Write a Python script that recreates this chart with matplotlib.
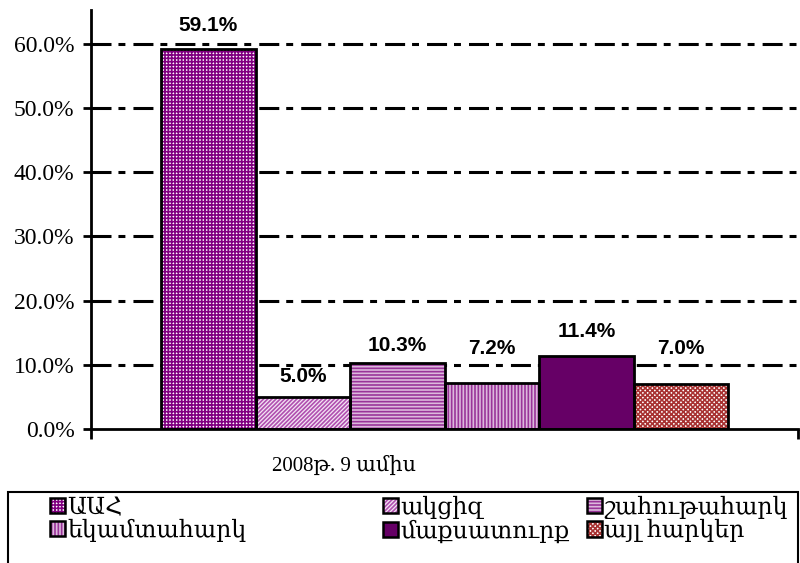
"""Tax revenue structure bar chart, 2008 (9 months)."""

import matplotlib
matplotlib.use("Agg")
import matplotlib.pyplot as plt
from matplotlib.patches import Patch, Rectangle
from matplotlib.legend_handler import HandlerTuple
from matplotlib.ticker import FuncFormatter

serif = ["Liberation Serif", "DejaVu Serif"]
plt.rcParams["font.family"] = serif
plt.rcParams["hatch.linewidth"] = 1.2
plt.rcParams["lines.scale_dashes"] = False

# Data
categories = ["ԱԱՀ", "ակցիզ", "շահութահարկ", "եկամտահարկ", "մաքսատուրք", "այլ հարկեր"]
values = [59.1, 5.0, 10.3, 7.2, 11.4, 7.0]
period_label = "2008թ. 9 ամիս"
yticks = [0, 10, 20, 30, 40, 50, 60]

# Fill styles: (face, hatch colour, hatch)
styles = [
    ("white", "#800080", "+++++"),
    ("#f4e4f4", "#b050b0", "////////"),
    ("#dcb8dc", "#993399", "-----"),
    ("#dcb8dc", "#993399", "|||||"),
    ("#660066", "#660066", None),
    ("white", "#a83232", "xxxxxxx"),
]
# label lift above each bar (points), as placed in the original
label_lift = [10.4, 8, 6, 18, 10.5, 19]

fig = plt.figure(figsize=(8, 5.63), dpi=100)
ax = fig.add_axes([0.114, 0.238, 0.884, 0.744])

x = list(range(len(values)))
handles = []
for xi, v, (face, hcol, hatch), lift in zip(x, values, styles, label_lift):
    ax.bar(xi, v, width=1.0, color=face, edgecolor=hcol, hatch=hatch,
           linewidth=0, zorder=2)
    ax.bar(xi, v, width=1.0, facecolor="none", edgecolor="black",
           linewidth=2, zorder=3)
    ax.annotate(f"{v:.1f}%", (xi, v), xytext=(0, lift), textcoords="offset points",
                ha="center", va="bottom", fontsize=15, fontweight="bold",
                family=["Liberation Sans", "DejaVu Sans"])
    handles.append((Patch(facecolor=face, edgecolor=hcol, hatch=hatch, linewidth=0),
                    Patch(facecolor="none", edgecolor="black", linewidth=1.8)))

ax.set_xlim(-1.24, 6.24)
ax.set_ylim(0, 65.2)

# dash-dot gridlines
for t in yticks[1:]:
    ax.axhline(t, color="black", linewidth=2.2, dashes=(14.4, 5, 5, 5.8), zorder=1)

for side in ["top", "right"]:
    ax.spines[side].set_visible(False)
for side in ["left", "bottom"]:
    ax.spines[side].set_linewidth(2)
ax.set_yticks(yticks)
ax.yaxis.set_major_formatter(FuncFormatter(lambda v, p: f"{v:.1f}%"))
ax.tick_params(axis="y", direction="out", length=6, width=2, labelsize=17, pad=6)
ax.set_xticks([-1.24, 6.24])
ax.set_xticklabels([])
ax.tick_params(axis="x", direction="out", length=7, width=2)

fig.text(344 / 800, 1 - 466 / 563, period_label, ha="center", va="center",
         fontsize=15)

# Legend: three columns inside one frame
fig.add_artist(Rectangle((8 / 800, -0.01), 790 / 800, 1 - 492 / 563 + 0.01,
                         transform=fig.transFigure, fill=False,
                         edgecolor="black", linewidth=1.5))
col_x = [50 / 800, 383 / 800, 587 / 800]
col_top = [498 / 563, 496 / 563, 496 / 563]
for c in range(3):
    idx = [c, c + 3]
    fig.legend([handles[i] for i in idx], [categories[i] for i in idx],
               handler_map={tuple: HandlerTuple(ndivide=1, pad=0)},
               loc="upper left", bbox_to_anchor=(col_x[c], 1 - col_top[c]),
               frameon=False, prop={"size": 17},
               handlelength=0.62, handleheight=0.62, handletextpad=0.1,
               labelspacing=0.0, borderpad=0, borderaxespad=0)

fig.savefig("out.png", dpi=100, facecolor="white")
